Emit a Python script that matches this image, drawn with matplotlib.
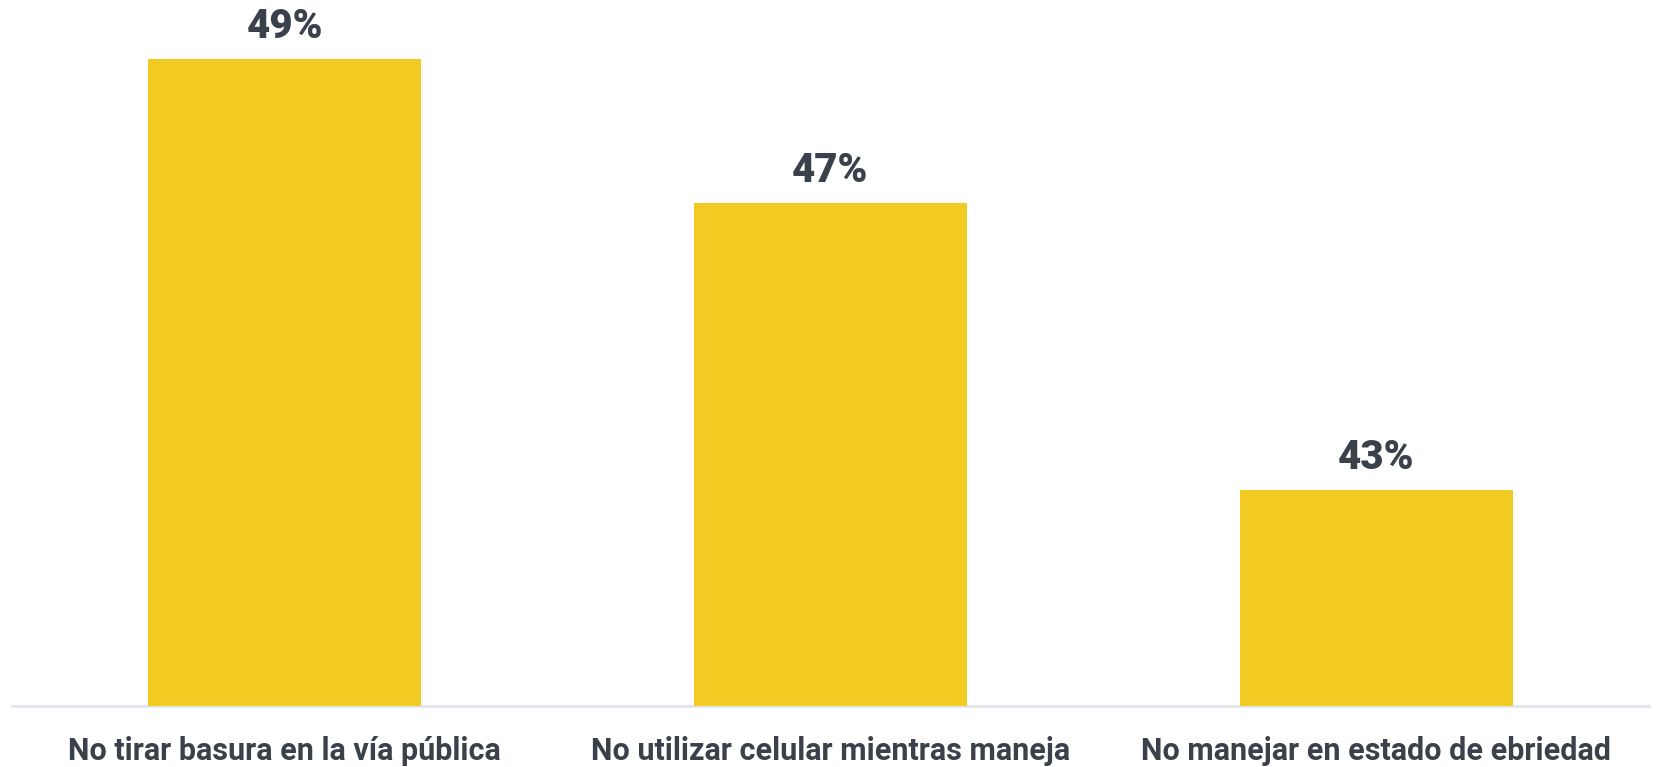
import matplotlib.pyplot as plt

# data
categorias = ["No tirar basura en la vía pública",
              "No utilizar celular mientras maneja",
              "No manejar en estado de ebriedad"]
porcentajes = [49, 47, 43]

amarillo = "#F2CB22"
texto = "#3B414B"
linea = "#E1E5EB"

plt.rcParams['font.family'] = ['Roboto', 'DejaVu Sans']

fig = plt.figure(figsize=(16.58, 7.67), dpi=100)
ax = fig.add_axes([12 / 1658, 61 / 767, 1637 / 1658, 706 / 767])

x = range(len(categorias))
bars = ax.bar(x, porcentajes, width=0.5, color=amarillo, zorder=2)

for xi, v in zip(x, porcentajes):
    ax.annotate(f"{v}%", (xi, v), xytext=(0, 15), textcoords="offset points",
                ha="center", va="baseline", fontsize=29, fontweight="heavy",
                color=texto)

ax.set_xlim(-0.5, len(categorias) - 0.5)
ax.set_ylim(40, 49 + 59 / 72)

ax.set_xticks(list(x))
ax.set_xticklabels(categorias, fontsize=22, fontweight="bold", color=texto,
                   va="baseline")
ax.tick_params(axis="x", length=0, pad=39)
ax.set_yticks([])

for s in ["top", "right", "left"]:
    ax.spines[s].set_visible(False)
ax.spines["bottom"].set_color(linea)
ax.spines["bottom"].set_linewidth(2)
ax.spines["bottom"].set_zorder(1)

fig.savefig("out.png", dpi=100)
